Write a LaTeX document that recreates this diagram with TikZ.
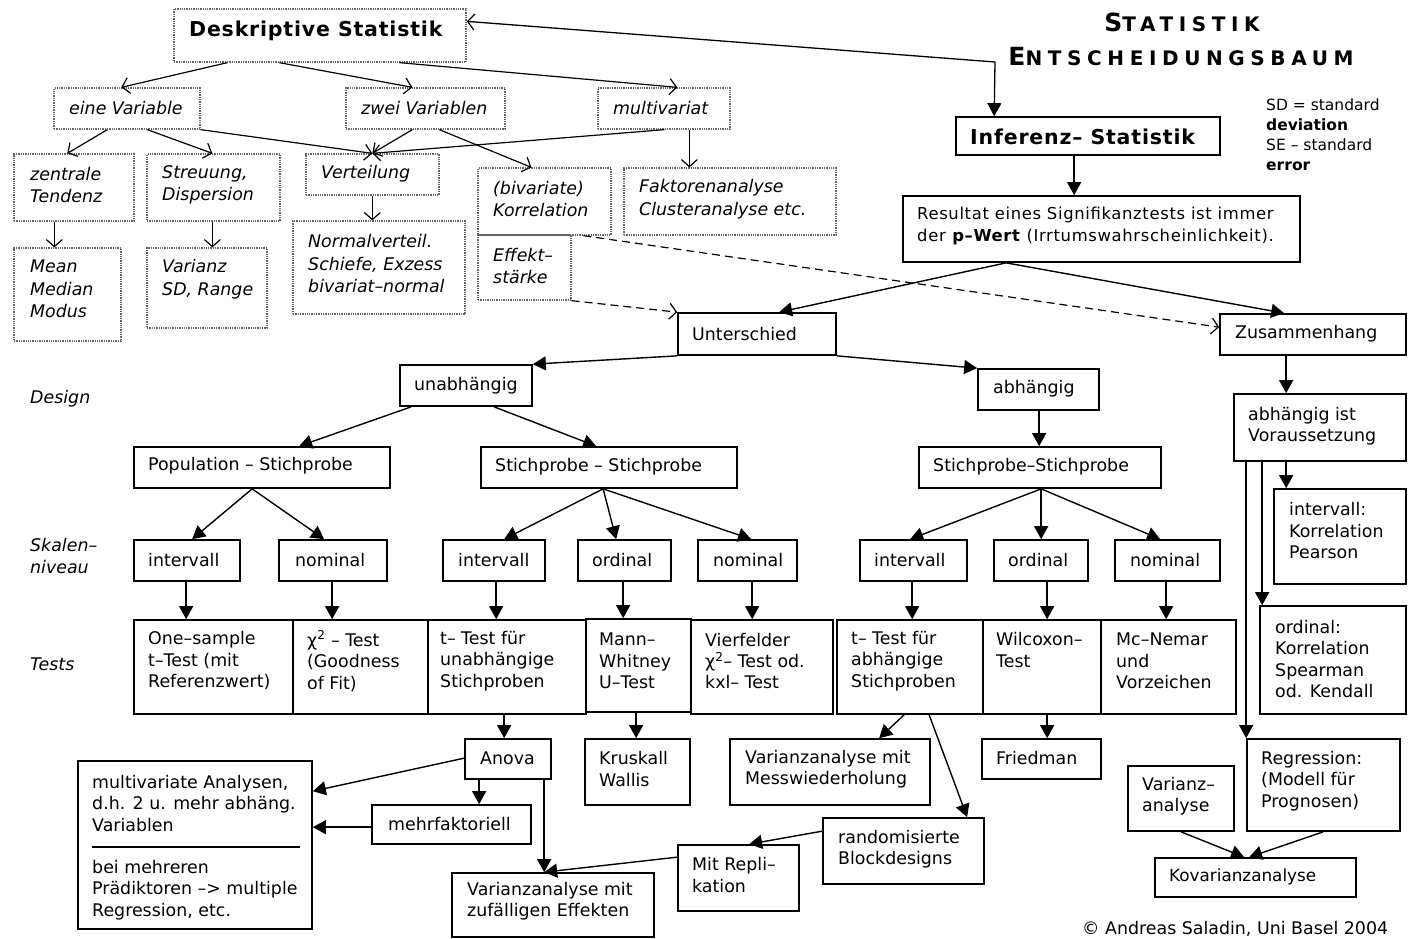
\documentclass[tikz,border=0pt]{standalone}
\usepackage{fontspec}
\setmainfont{DejaVu Sans}
\newfontfamily\titlefont[LetterSpace=28]{DejaVu Sans}
\newfontfamily\headfont[LetterSpace=4]{DejaVu Sans}
\newfontfamily\resfont[LetterSpace=4]{DejaVu Sans}
\usetikzlibrary{arrows.meta,fit}
\newcommand\mkbox[6]{\node[#6, fit={(#2,#3) (#4,#5)}] (#1) {};}
\tikzset{
  dbox/.style={draw=black!60, densely dotted, line width=1.3pt, inner sep=0pt},
  sbox/.style={draw=black, line width=1.7pt, inner sep=0pt},
  txt/.style={inner sep=0pt, anchor=west, align=left, font=\fontsize{17.4}{21.5}\selectfont},
  itxt/.style={inner sep=0pt, anchor=west, align=left, font=\fontsize{17.4}{22.5}\selectfont\itshape},
  stxt/.style={inner sep=0pt, anchor=west, align=left, font=\fontsize{15.5}{20}\selectfont},
  htxt/.style={inner sep=0pt, anchor=west, font=\headfont\bfseries\fontsize{20.5}{24}\selectfont},
  oarr/.style={line width=1.2pt, -{Straight Barb[length=7pt,width=16pt,line width=1.2pt]}},
  farr/.style={line width=1.4pt, -{Triangle[length=13pt,width=14pt]}},
  darr/.style={oarr, dash pattern=on 8pt off 5pt},
}
\begin{document}
\begin{tikzpicture}[x=1pt,y=-1pt]
\useasboundingbox (0,0) rectangle (1408,938);
% ---------------- descriptive part
\mkbox{desk}{174}{9}{466}{62}{dbox}
\node[htxt] (deskT) at (189,31) {Deskriptive Statistik};
\mkbox{einV}{54}{88}{200}{129}{dbox}
\node[itxt] (einVT) at (69,108) {eine Variable};
\mkbox{zweiV}{346}{88}{505}{129}{dbox}
\node[itxt] (zweiVT) at (361,108) {zwei Variablen};
\mkbox{multiV}{598}{88}{730}{129}{dbox}
\node[itxt] (multiVT) at (613,108) {multivariat};
\mkbox{zentral}{14}{154}{134}{221}{dbox}
\node[itxt] (zentralT) at (30,185) {zentrale\\Tendenz};
\mkbox{streu}{147}{154}{280}{221}{dbox}
\node[itxt] (streuT) at (162,185) {Streuung,\\Dispersion};
\mkbox{vert}{306}{154}{439}{195}{dbox}
\node[itxt] (vertT) at (321,174) {Verteilung};
\mkbox{korr}{478}{168}{611}{235}{dbox}
\node[itxt] (korrT) at (493,199) {(bivariate)\\Korrelation};
\mkbox{fakt}{624}{168}{836}{235}{dbox}
\node[itxt] (faktT) at (639,199) {Faktorenanalyse\\Clusteranalyse etc.};
\mkbox{eff}{478}{235}{571}{300}{dbox}
\node[itxt] (effT) at (493,266) {Effekt–\\stärke};
\mkbox{mean}{14}{248}{121}{341}{dbox}
\node[itxt] (meanT) at (30,289) {Mean\\Median\\Modus};
\mkbox{varz}{147}{248}{267}{328}{dbox}
\node[itxt] (varzT) at (162,279) {Varianz\\SD, Range};
\mkbox{normal}{293}{221}{465}{314}{dbox}
\node[itxt] (normalT) at (308,264) {Normalverteil.\\Schiefe, Exzess\\bivariat–normal};
% ---------------- title and note
\node[inner sep=0pt, font=\titlefont\bfseries] (title1) at (1182,22) {\fontsize{25}{30}\selectfont S\fontsize{20}{30}\selectfont TATISTIK};
\node[inner sep=0pt, font=\titlefont\bfseries] (title2) at (1181,57) {\fontsize{25}{30}\selectfont E\fontsize{20}{30}\selectfont NTSCHEIDUNGSBAUM};
\node[stxt] (sd) at (1266,135) {SD = standard\\\textbf{deviation}\\SE – standard\\\textbf{error}};
% ---------------- inference part
\mkbox{inf}{956}{117}{1220}{155}{sbox}
\node[htxt] (infT) at (970,137) {Inferenz– Statistik};
\mkbox{res}{903}{196}{1300}{262}{sbox}
\node[stxt, font=\resfont\fontsize{16.4}{22}\selectfont] (resT) at (917,226) {Resultat eines Signifikanztests ist immer\\der \textbf{p–Wert} (Irrtumswahrscheinlichkeit).};
\mkbox{unter}{678}{313}{836}{355}{sbox}
\node[txt] (unterT) at (692,334) {Unterschied};
\mkbox{zus}{1220}{314}{1406}{355}{sbox}
\node[txt] (zusT) at (1235,334) {Zusammenhang};
% row labels
\node[itxt] (lDesign) at (30,399) {Design};
\node[itxt] (lSkala) at (30,556) {Skalen–\\niveau};
\node[itxt] (lTests) at (30,664) {Tests};
% design
\mkbox{unab}{400}{365}{532}{406}{sbox}
\node[txt] (unabT) at (414,386) {unabhängig};
\mkbox{abh}{978}{369}{1099}{410}{sbox}
\node[txt] (abhT) at (993,389) {abhängig};
\mkbox{vor}{1234}{394}{1406}{461}{sbox}
\node[txt] (vorT) at (1248,426) {abhängig ist\\Voraussetzung};
\mkbox{pop}{134}{447}{390}{488}{sbox}
\node[txt] (popT) at (148,466) {Population – Stichprobe};
\mkbox{ssu}{481}{447}{737}{488}{sbox}
\node[txt] (ssuT) at (495,467) {Stichprobe – Stichprobe};
\mkbox{ssa}{919}{447}{1161}{488}{sbox}
\node[txt] (ssaT) at (933,467) {Stichprobe–Stichprobe};
\mkbox{pear}{1274}{489}{1406}{584}{sbox}
\node[txt] (pearT) at (1289,531) {intervall:\\Korrelation\\Pearson};
% scale level
\mkbox{pI}{134}{540}{240}{581}{sbox}
\node[txt] (pIT) at (148,560) {intervall};
\mkbox{pN}{279}{540}{387}{581}{sbox}
\node[txt] (pNT) at (295,560) {nominal};
\mkbox{sI}{443}{540}{545}{581}{sbox}
\node[txt] (sIT) at (458,560) {intervall};
\mkbox{sO}{578}{540}{671}{581}{sbox}
\node[txt] (sOT) at (592,560) {ordinal};
\mkbox{sN}{698}{540}{797}{581}{sbox}
\node[txt] (sNT) at (713,560) {nominal};
\mkbox{aI}{860}{540}{967}{581}{sbox}
\node[txt] (aIT) at (874,560) {intervall};
\mkbox{aO}{994}{540}{1088}{581}{sbox}
\node[txt] (aOT) at (1008,560) {ordinal};
\mkbox{aN}{1115}{540}{1220}{581}{sbox}
\node[txt] (aNT) at (1130,560) {nominal};
% tests
\mkbox{tA}{134}{620}{293}{714}{sbox}
\node[txt] (tAT) at (148,661) {One–sample\\t–Test (mit\\Referenzwert)};
\mkbox{tB}{293}{620}{428}{714}{sbox}
\node[txt] (tBT) at (307,661) {χ\textsuperscript{2} – Test\\(Goodness\\of Fit)};
\mkbox{tC}{428}{620}{586}{714}{sbox}
\node[txt] (tCT) at (440,661) {t– Test für\\unabhängige\\Stichproben};
\mkbox{tD}{586}{619}{691}{712}{sbox}
\node[txt] (tDT) at (599,661) {Mann–\\Whitney\\U–Test};
\mkbox{tE}{691}{620}{833}{714}{sbox}
\node[txt] (tET) at (705,661) {Vierfelder\\χ\textsuperscript{2}– Test od.\\kxl– Test};
\mkbox{tF}{837}{620}{983}{714}{sbox}
\node[txt] (tFT) at (851,661) {t– Test für\\abhängige\\Stichproben};
\mkbox{tG}{983}{620}{1101}{714}{sbox}
\node[txt] (tGT) at (996,650) {Wilcoxon–\\Test};
\mkbox{tH}{1101}{620}{1236}{714}{sbox}
\node[txt] (tHT) at (1116,661) {Mc–Nemar\\und\\Vorzeichen};
\mkbox{spear}{1260}{606}{1406}{714}{sbox}
\node[txt] (spearT) at (1275,659) {ordinal:\\Korrelation\\Spearman\\od. Kendall};
% bottom
\mkbox{anova}{465}{739}{551}{779}{sbox}
\node[txt] (anovaT) at (480,758) {Anova};
\mkbox{krus}{585}{739}{690}{805}{sbox}
\node[txt] (krusT) at (599,769) {Kruskall\\Wallis};
\mkbox{mess}{730}{739}{930}{805}{sbox}
\node[txt] (messT) at (745,769) {Varianzanalyse mit\\Messwiederholung};
\mkbox{fried}{982}{739}{1101}{779}{sbox}
\node[txt] (friedT) at (996,758) {Friedman};
\mkbox{regr}{1247}{739}{1400}{831}{sbox}
\node[txt] (regrT) at (1261,781) {Regression:\\(Modell für\\Prognosen)};
\mkbox{multi}{78}{761}{312}{929}{sbox}
\node[txt] (multiT1) at (92,803) {multivariate Analysen,\\d.h. 2 u. mehr abhäng.\\Variablen};
\node[txt] (multiT2) at (92,890) {bei mehreren\\Prädiktoren –> multiple\\Regression, etc.};
\draw[line width=1.4pt] (92,847) -- (300,847);
\mkbox{mehr}{372}{805}{531}{844}{sbox}
\node[txt] (mehrT) at (388,824) {mehrfaktoriell};
\mkbox{vanv}{1128}{766}{1234}{831}{sbox}
\node[txt] (vanvT) at (1142,796) {Varianz–\\analyse};
\mkbox{rand}{823}{818}{984}{884}{sbox}
\node[txt] (randT) at (838,849) {randomisierte\\Blockdesigns};
\mkbox{repl}{678}{845}{799}{911}{sbox}
\node[txt] (replT) at (692,875) {Mit Repli–\\kation};
\mkbox{zuf}{452}{873}{654}{937}{sbox}
\node[txt] (zufT) at (467,901) {Varianzanalyse mit\\zufälligen Effekten};
\mkbox{kov}{1155}{858}{1356}{897}{sbox}
\node[txt, font=\fontsize{16.8}{20}\selectfont] (kovT) at (1169,877) {Kovarianzanalyse};
\node[txt] (copy) at (1082,929) {© Andreas Saladin, Uni Basel 2004};
% ---------------- connectors: descriptive (open heads)
\draw[oarr] ([xshift=54pt]desk.south west) -- ([xshift=68pt]einV.north west);
\draw[oarr] ([xshift=106pt]desk.south west) -- ([xshift=67pt]zweiV.north west);
\draw[oarr] ([xshift=226pt]desk.south west) -- ([xshift=80pt]multiV.north west);
\coordinate (cInf) at (995,62);
\draw[line width=1.3pt, {Straight Barb[length=7pt,width=16pt,line width=1.2pt]}-{Triangle[length=13pt,width=14pt]}] ([yshift=-13pt]desk.north east) -- (cInf) -- ([xshift=39pt]inf.north west);
\draw[oarr] ([xshift=54pt]einV.south west) -- ([xshift=54pt]zentral.north west);
\draw[oarr] ([xshift=94pt]einV.south west) -- ([xshift=66pt]streu.north west);
\draw[oarr] (einV.south east) -- ([xshift=67pt]vert.north west);
\draw[oarr] ([xshift=67pt]zweiV.south west) -- ([xshift=67pt]vert.north west);
\draw[oarr] ([xshift=67pt]multiV.south west) -- ([xshift=67pt]vert.north west);
\draw[oarr] ([xshift=94pt]zweiV.south west) -- ([xshift=54pt]korr.north west);
\draw[oarr] ([xshift=92pt]multiV.south west) -- ([xshift=66pt]fakt.north west);
\draw[oarr] ([xshift=41pt]zentral.south west) -- ([xshift=41pt]mean.north west);
\draw[oarr] ([xshift=66pt]streu.south west) -- ([xshift=66pt]varz.north west);
\draw[oarr] ([xshift=67pt]vert.south west) -- ([xshift=80pt]normal.north west);
\draw[darr] ([xshift=106pt]korr.south west) -- ([yshift=-14pt]zus.north west);
\draw[darr] (eff.south east) -- (unter.north west);
% ---------------- connectors: inference (filled heads)
\draw[farr] ([xshift=119pt]inf.south west) -- ([xshift=172pt]res.north west);
\draw[farr] ([xshift=104pt]res.south west) -- ([xshift=102pt]unter.north west);
\draw[farr] ([xshift=104pt]res.south west) -- ([xshift=65pt]zus.north west);
\draw[farr] (unter.south west) -- (unab.north east);
\draw[farr] (unter.south east) -- (abh.north west);
\draw[farr] ([xshift=12pt]unab.south west) -- ([xshift=166pt]pop.north west);
\draw[farr] ([xshift=95pt]unab.south west) -- ([xshift=116pt]ssu.north west);
\draw[farr] ([xshift=62pt]abh.south west) -- ([xshift=121pt]ssa.north west);
\draw[farr] ([xshift=67pt]zus.south west) -- ([xshift=53pt]vor.north west);
\draw[farr] ([xshift=119pt]pop.south west) -- ([xshift=59pt]pI.north west);
\draw[farr] ([xshift=119pt]pop.south west) -- ([xshift=46pt]pN.north west);
\draw[farr] ([xshift=123pt]ssu.south west) -- ([xshift=62pt]sI.north west);
\draw[farr] ([xshift=123pt]ssu.south west) -- ([xshift=39pt]sO.north west);
\draw[farr] ([xshift=123pt]ssu.south west) -- ([xshift=54pt]sN.north west);
\draw[farr] ([xshift=123pt]ssa.south west) -- ([xshift=51pt]aI.north west);
\draw[farr] ([xshift=123pt]ssa.south west) -- ([xshift=48pt]aO.north west);
\draw[farr] ([xshift=123pt]ssa.south west) -- ([xshift=46pt]aN.north west);
\draw[farr] ([xshift=53pt]pI.south west) -- ([xshift=53pt]tA.north west);
\draw[farr] ([xshift=54pt]pN.south west) -- ([xshift=40pt]tB.north west);
\draw[farr] ([xshift=54pt]sI.south west) -- ([xshift=69pt]tC.north west);
\draw[farr] ([xshift=46pt]sO.south west) -- ([xshift=38pt]tD.north west);
\draw[farr] ([xshift=55pt]sN.south west) -- ([xshift=62pt]tE.north west);
\draw[farr] ([xshift=53pt]aI.south west) -- ([xshift=76pt]tF.north west);
\draw[farr] ([xshift=54pt]aO.south west) -- ([xshift=65pt]tG.north west);
\draw[farr] ([xshift=52pt]aN.south west) -- ([xshift=66pt]tH.north west);
\draw[farr] ([xshift=53pt]vor.south west) -- ([xshift=13pt]pear.north west);
\draw[farr] ([xshift=29pt]vor.south west) -- ([xshift=3pt]spear.north west);
\draw[farr] ([xshift=13pt]vor.south west) -- (regr.north west);
\draw[farr] ([xshift=77pt]tC.south west) -- ([xshift=40pt]anova.north west);
\draw[farr] ([xshift=51pt]tD.south west) -- ([xshift=52pt]krus.north west);
\draw[farr] ([yshift=-20pt]anova.north west) -- ([yshift=-31pt]multi.north east);
\draw[farr] ([xshift=15pt]anova.south west) -- ([xshift=108pt]mehr.north west);
\draw[farr] ([yshift=-23pt]mehr.north west) -- ([yshift=-67pt]multi.north east);
\draw[farr] ([xshift=80pt]anova.south west) -- ([xshift=93pt]zuf.north west);
\draw[farr] ([yshift=-13pt]repl.north west) -- ([xshift=93pt]zuf.north west);
\draw[farr] ([yshift=-14pt]rand.north west) -- ([xshift=72pt]repl.north west);
\draw[farr] ([xshift=68pt]tF.south west) -- ([xshift=150pt]mess.north west);
\draw[farr] ([xshift=93pt]tF.south west) -- ([xshift=145pt]rand.north west);
\draw[farr] ([xshift=65pt]tG.south west) -- ([xshift=66pt]fried.north west);
\draw[farr] ([xshift=54pt]vanv.south west) -- ([xshift=90pt]kov.north west);
\draw[farr] ([xshift=77pt]regr.south west) -- ([xshift=95pt]kov.north west);
\end{tikzpicture}
\end{document}
